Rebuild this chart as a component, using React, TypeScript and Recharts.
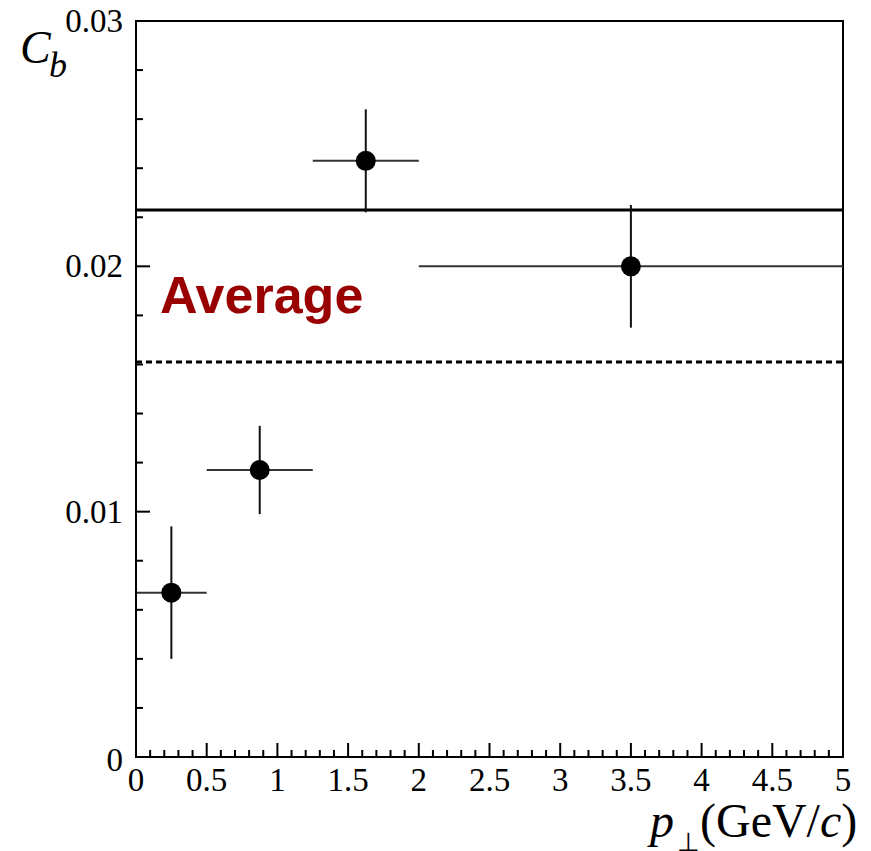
import React from 'react';
import { ComposedChart, Scatter, ErrorBar, XAxis, YAxis, ReferenceLine, ReferenceArea } from 'recharts';

// measured points: bin centre, C_b, half bin width, stat error
const ptCenters = [0.25, 0.875, 1.625, 3.5];
const cbValues = [0.0067, 0.0117, 0.0243, 0.0200];
const binHalfWidths = [0.25, 0.375, 0.375, 1.5];
const cbErrors = [0.0027, 0.0018, 0.0021, 0.0025];

const averageSolid = 0.0223;
const averageDotted = 0.0161;

const xMajorTicks = [0, 0.5, 1, 1.5, 2, 2.5, 3, 3.5, 4, 4.5, 5];
const xTickLabels = ['0', '0.5', '1', '1.5', '2', '2.5', '3', '3.5', '4', '4.5', '5'];
const yMajorTicks = [0, 0.01, 0.02, 0.03];
const yTickLabels = ['0', '0.01', '0.02', '0.03'];

const xMinorStep = 0.1;
const yMinorStep = 0.002;

const data = ptCenters.map((x, i) => ({
  x,
  y: cbValues[i],
  ex: binHalfWidths[i],
  ey: cbErrors[i],
}));

const buildTicks = (max: number, step: number) => {
  const n = Math.round(max / step);
  return Array.from({ length: n + 1 }, (_, i) => +(i * step).toFixed(6));
};

const xTicks = buildTicks(5, xMinorStep);
const yTicks = buildTicks(0.03, yMinorStep);

const SERIF = '"Liberation Serif", "Times New Roman", serif';

const majorIndex = (v: number, majors: number[]) =>
  majors.findIndex(m => Math.abs(m - v) < 1e-9);

const renderXTick = (props: any) => {
  const { x, y, payload } = props;
  const idx = majorIndex(payload.value, xMajorTicks);
  const major = idx >= 0;
  return (
    <g key={`xt-${payload.value}`}>
      <line x1={x} x2={x} y1={y} y2={y - (major ? 14 : 7)} stroke="#000" strokeWidth={2} />
      {major && (
        <text x={x} y={y + 34} textAnchor="middle" fontFamily={SERIF} fontSize={33} fill="#000">
          {xTickLabels[idx]}
        </text>
      )}
    </g>
  );
};

const renderYTick = (props: any) => {
  const { x, y, payload } = props;
  const idx = majorIndex(payload.value, yMajorTicks);
  const major = idx >= 0;
  // the zero label sits a little lower, as in the original
  const dy = payload.value === 0 ? 14 : 11;
  return (
    <g key={`yt-${payload.value}`}>
      <line x1={x} x2={x + (major ? 14 : 7)} y1={y} y2={y} stroke="#000" strokeWidth={2} />
      {major && (
        <text x={x - 13} y={y + dy} textAnchor="end" fontFamily={SERIF} fontSize={33} fill="#000">
          {yTickLabels[idx]}
        </text>
      )}
    </g>
  );
};

const Dot = (props: any) => {
  const { cx, cy } = props;
  return <circle cx={cx} cy={cy} r={10} fill="#000" />;
};

const App: React.FC = () => {
  return (
    <div style={{ position: 'absolute', left: 0, top: 0, width: 871, height: 851, background: '#fff' }}>
      <ComposedChart
        width={871}
        height={851}
        data={data}
        margin={{ top: 21, right: 28, bottom: 34, left: 36 }}
      >
        <XAxis
          type="number"
          dataKey="x"
          domain={[0, 5]}
          ticks={xTicks}
          interval={0}
          height={60}
          tickSize={0}
          tickMargin={0}
          tickLine={false}
          tick={renderXTick}
          axisLine={{ stroke: '#000', strokeWidth: 2 }}
        />
        <YAxis
          type="number"
          domain={[0, 0.03]}
          ticks={yTicks}
          interval={0}
          width={100}
          tickSize={0}
          tickMargin={0}
          tickLine={false}
          tick={renderYTick}
          axisLine={{ stroke: '#000', strokeWidth: 2 }}
        />
        <ReferenceArea x1={0} x2={5} y1={0} y2={0.03} fill="none" fillOpacity={0} stroke="#000" strokeWidth={2} />
        <ReferenceLine y={averageSolid} stroke="#000" strokeWidth={3} />
        <ReferenceLine y={averageDotted} stroke="#000" strokeWidth={3} strokeDasharray="6 4" />
        <Scatter dataKey="y" shape={<Dot />} isAnimationActive={false}>
          <ErrorBar dataKey="ex" direction="x" width={0} stroke="#333" strokeWidth={2} />
          <ErrorBar dataKey="ey" direction="y" width={0} stroke="#111" strokeWidth={2} />
        </Scatter>
      </ComposedChart>
      <svg
        width={871}
        height={851}
        style={{ position: 'absolute', left: 0, top: 0, pointerEvents: 'none' }}
      >
        <text x={20} y={63} fontFamily={SERIF} fontStyle="italic" fontSize={46} fill="#000">C</text>
        <text x={49} y={77} fontFamily={SERIF} fontStyle="italic" fontSize={36} fill="#000">b</text>
        <text
          x={160}
          y={313}
          fontFamily='"Liberation Sans", Arial, sans-serif'
          fontWeight="bold"
          fontSize={52}
          fill="#990000"
        >
          Average
        </text>
        <text x={650} y={837} fontFamily={SERIF} fontStyle="italic" fontSize={48} fill="#000">p</text>
        <text x={677} y={851} fontFamily={SERIF} fontSize={26} fill="#000">⊥</text>
        <text x={700} y={837} fontFamily={SERIF} fontSize={48} fill="#000">
          (GeV/<tspan fontStyle="italic">c</tspan>)
        </text>
      </svg>
    </div>
  );
};

export default App;
